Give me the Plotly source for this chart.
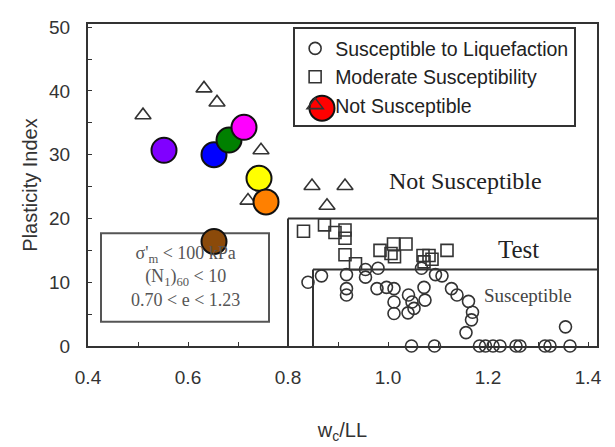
import plotly.graph_objects as go

# ---- data ----
sus_x = [0.840, 0.867, 0.917, 0.917, 0.917, 0.955, 0.955, 0.980, 0.978, 0.997,
         1.012, 1.012, 1.012, 1.041, 1.048, 1.052, 1.040, 1.072, 1.074, 1.067,
         1.095, 1.108, 1.127, 1.138, 1.161, 1.169, 1.167, 1.156, 1.355,
         1.047, 1.093, 1.183, 1.195, 1.210, 1.224, 1.256, 1.264, 1.314, 1.324, 1.364]
sus_y = [10.0, 11.0, 11.2, 9.0, 8.0, 12.0, 10.8, 12.2, 9.0, 9.2,
         9.0, 6.9, 5.1, 8.0, 6.9, 5.9, 5.2, 9.2, 7.2, 12.2,
         11.2, 11.0, 9.0, 8.0, 7.0, 5.3, 4.1, 2.1, 3.0,
         0, 0, 0, 0, 0, 0, 0, 0, 0, 0, 0]

mod_x = [0.831, 0.873, 0.894, 0.914, 0.914, 0.914, 0.935, 0.984, 1.006, 1.011,
         1.036, 1.013, 1.070, 1.082, 1.072, 1.088, 1.118]
mod_y = [18.0, 19.0, 17.8, 18.2, 16.9, 14.3, 12.9, 15.0, 14.5, 16.0,
         16.0, 14.0, 14.2, 14.2, 13.2, 13.6, 15.0]

not_x = [0.510, 0.632, 0.658, 0.746, 0.720, 0.848, 0.878, 0.914]
not_y = [36.2, 40.4, 38.2, 30.7, 22.8, 25.1, 22.0, 25.1]

samp_x = [0.552, 0.652, 0.682, 0.712, 0.742, 0.756, 0.652, 0.868]
samp_y = [30.7, 30.0, 32.3, 34.3, 26.3, 22.6, 16.4, 37.3]
samp_c = ["#8000FF", "#0000FF", "#008000", "#FF00FF", "#FFFF00", "#FF8000", "#8B4A0A", "#FF0000"]

x_range = [0.4, 1.418]
y_range = [0, 50.5]
# zone boundaries
test_x0, test_y1 = 0.80, 20
sus_x0, sus_y1 = 0.85, 12
# condition box
cond_box = [0.426, 3.8, 0.762, 17.7]

ink = "#333333"

fig = go.Figure()
fig.add_trace(go.Scatter(x=sus_x, y=sus_y, mode="markers", name="Susceptible to Liquefaction",
                         cliponaxis=False,
                         marker=dict(symbol="circle-open", size=12, color=ink, line=dict(width=1.6))))
fig.add_trace(go.Scatter(x=mod_x, y=mod_y, mode="markers", name="Moderate Susceptibility",
                         cliponaxis=False,
                         marker=dict(symbol="square-open", size=12, color=ink, line=dict(width=1.6))))
fig.add_trace(go.Scatter(x=not_x, y=not_y, mode="markers", name="Not Susceptible",
                         cliponaxis=False,
                         marker=dict(symbol="triangle-up-open", size=14, color=ink, line=dict(width=1.6))))
fig.add_trace(go.Scatter(x=samp_x, y=samp_y, mode="markers", showlegend=False,
                         cliponaxis=False,
                         marker=dict(symbol="circle", size=25, color=samp_c,
                                     line=dict(width=2, color="#111111"))))

shapes = [
    dict(type="line", xref="x", yref="y", x0=test_x0, x1=test_x0, y0=0, y1=test_y1,
         line=dict(color=ink, width=2)),
    dict(type="line", xref="x", yref="y", x0=test_x0, x1=x_range[1], y0=test_y1, y1=test_y1,
         line=dict(color=ink, width=2)),
    dict(type="line", xref="x", yref="y", x0=sus_x0, x1=sus_x0, y0=0, y1=sus_y1,
         line=dict(color=ink, width=2)),
    dict(type="line", xref="x", yref="y", x0=sus_x0, x1=x_range[1], y0=sus_y1, y1=sus_y1,
         line=dict(color=ink, width=2)),
    dict(type="rect", xref="x", yref="y", x0=cond_box[0], y0=cond_box[1], x1=cond_box[2], y1=cond_box[3],
         line=dict(color="#555555", width=2), layer="below"),
]

serif = "Liberation Serif"
annotations = [
    dict(x=1.154, y=25.8, xref="x", yref="y", text="Not Susceptible", showarrow=False,
         font=dict(family=serif, size=24, color="#222222")),
    dict(x=1.26, y=15.1, xref="x", yref="y", text="Test", showarrow=False,
         font=dict(family=serif, size=25, color="#222222")),
    dict(x=1.28, y=7.95, xref="x", yref="y", text="Susceptible", showarrow=False,
         font=dict(family=serif, size=19, color="#444444")),
    dict(x=0.594, y=10.9, xref="x", yref="y",
         text="σ'<sub>m</sub> &lt; 100 kPa<br>(N<sub>1</sub>)<sub>60</sub> &lt; 10<br>0.70 &lt; e &lt; 1.23",
         showarrow=False, align="center",
         font=dict(family=serif, size=18, color="#555555")),
]

# page body has an 8px margin, so the figure is sized to the visible window
fig.update_layout(
    width=607, height=439,
    margin=dict(l=80, r=18, t=9, b=100),
    paper_bgcolor="white", plot_bgcolor="white",
    showlegend=True,
    legend=dict(x=0.403, y=0.99, xanchor="left", yanchor="top",
                bgcolor="rgba(0,0,0,0)", bordercolor=ink, borderwidth=2,
                font=dict(family="Liberation Sans", size=19.5, color="#222222"),
                itemwidth=30),
    shapes=shapes, annotations=annotations,
    font=dict(family="Liberation Sans", color=ink),
)
fig.update_xaxes(range=x_range, showgrid=False, zeroline=False,
                 showline=True, linecolor=ink, linewidth=2, mirror=True,
                 tickmode="array", tickvals=[0.4, 0.6, 0.8, 1.0, 1.2, 1.4],
                 ticktext=["0.4", "0.6", "0.8", "1.0", "1.2", "1.4"],
                 ticks="inside", ticklen=4, tickcolor=ink,
                 minor=dict(tickvals=[0.5, 0.7, 0.9, 1.1, 1.3], ticks="inside", ticklen=4, tickcolor=ink),
                 tickfont=dict(size=19, color="#333333"), ticklabelstandoff=13,
                 title=dict(text="w<sub>c</sub>/LL", font=dict(size=20, color="#333333"), standoff=36))
fig.update_yaxes(range=y_range, showgrid=False, zeroline=False,
                 showline=True, linecolor=ink, linewidth=2, mirror=True,
                 tickmode="array", tickvals=[0, 10, 20, 30, 40, 50],
                 ticks="inside", ticklen=4, tickcolor=ink,
                 minor=dict(tickvals=[5, 15, 25, 35, 45], ticks="inside", ticklen=4, tickcolor=ink),
                 tickfont=dict(size=19, color="#333333"), ticklabelstandoff=12,
                 title=dict(text="Plasticity Index", font=dict(size=20, color="#333333"), standoff=6))

fig.write_html("out.html")
